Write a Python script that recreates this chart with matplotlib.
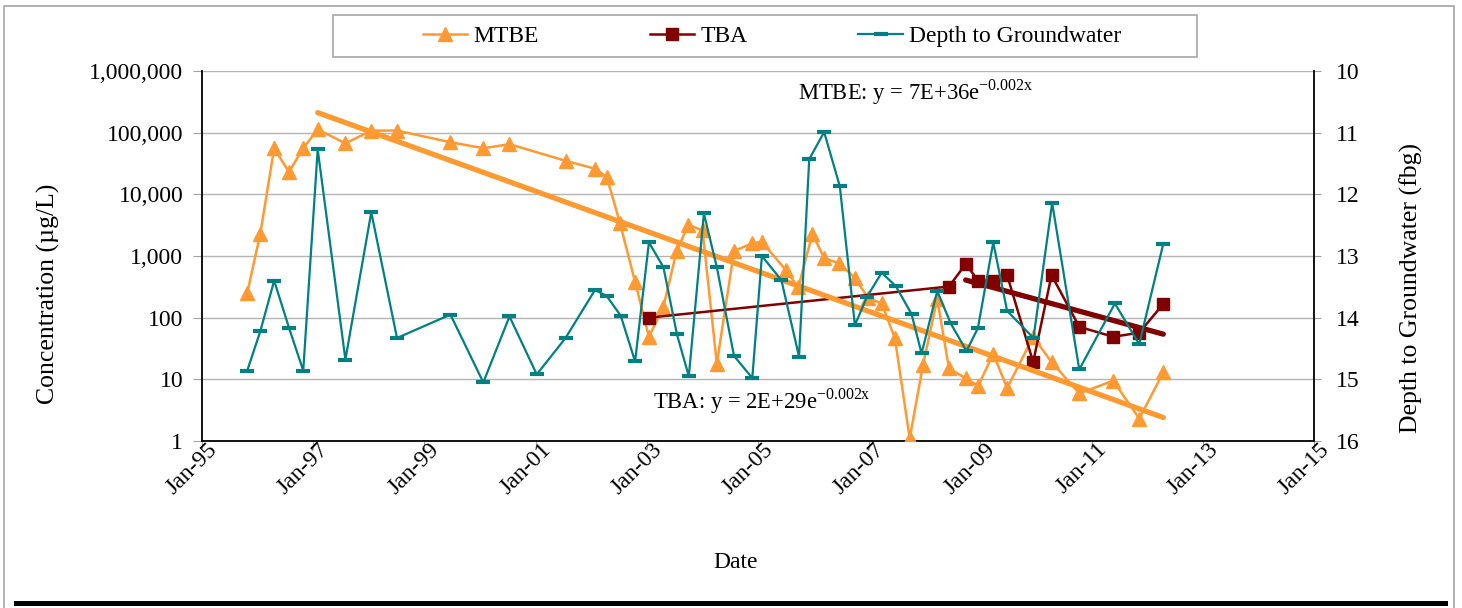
import matplotlib
matplotlib.use("Agg")
import matplotlib.pyplot as plt
import matplotlib.dates as mdates
from matplotlib.patches import Rectangle
from matplotlib.ticker import FixedLocator, FuncFormatter, NullLocator
from matplotlib.transforms import ScaledTranslation
import pandas as pd

plt.rcParams['font.family'] = ['Liberation Serif', 'DejaVu Serif']

# MTBE concentrations (ug/L)
mtbe_dates = ['1995-10-25', '1996-01-19', '1996-04-19', '1996-07-25', '1996-10-27',
              '1997-01-30', '1997-07-31', '1998-01-17', '1998-07-05', '1999-06-21',
              '2000-01-23', '2000-07-13', '2001-07-16', '2002-01-26', '2002-04-13',
              '2002-07-09', '2002-10-16', '2003-01-15', '2003-04-20', '2003-07-16',
              '2003-10-01', '2004-01-02', '2004-04-05', '2004-07-27', '2004-11-21',
              '2005-01-26', '2005-07-02', '2005-09-22', '2005-12-24', '2006-03-11',
              '2006-06-18', '2006-09-29', '2006-12-24', '2007-03-24', '2007-06-19',
              '2007-09-24', '2007-12-20', '2008-03-23', '2008-06-08', '2008-09-26',
              '2008-12-17', '2009-03-26', '2009-06-25', '2009-12-13', '2010-04-13',
              '2010-10-12', '2011-05-23', '2011-11-10', '2012-04-16']
mtbe_vals = [250, 2300, 56000, 23000, 56000,
             113000, 67000, 108000, 108000, 70000,
             56000, 65000, 35000, 26000, 19000,
             3400, 380, 49, 150, 1200,
             3200, 2600, 18, 1200, 1600,
             1700, 590, 310, 2300, 920,
             760, 440, 210, 170, 46,
             1.1, 17, 200, 15, 10.4,
             7.8, 26, 7.2, 49, 19,
             5.9, 9.5, 2.3, 13]

# TBA concentrations (ug/L)
tba_dates = ['2003-01-15', '2008-06-08', '2008-09-26', '2008-12-17', '2009-03-26',
             '2009-06-25', '2009-12-13', '2010-04-13', '2010-10-12', '2011-05-23',
             '2011-11-10', '2012-04-16']
tba_vals = [100, 320, 740, 400, 400, 490, 19, 490, 71, 49, 57, 167]

# depth to groundwater (fbg)
gw_dates = ['1995-10-25', '1996-01-19', '1996-04-19', '1996-07-25', '1996-10-27',
            '1997-01-30', '1997-07-31', '1998-01-17', '1998-07-05', '1999-06-21',
            '2000-01-23', '2000-07-13', '2001-01-08', '2001-07-16', '2002-01-26',
            '2002-04-13', '2002-07-14', '2002-10-16', '2003-01-15', '2003-04-20',
            '2003-07-18', '2003-10-04', '2004-01-11', '2004-04-05', '2004-07-27',
            '2004-11-24', '2005-01-26', '2005-06-03', '2005-09-27', '2005-12-03',
            '2006-03-11', '2006-06-22', '2006-09-29', '2006-12-18', '2007-03-24',
            '2007-06-25', '2007-10-06', '2007-12-11', '2008-03-23', '2008-06-19',
            '2008-10-01', '2008-12-15', '2009-03-26', '2009-06-25', '2009-12-15',
            '2010-04-17', '2010-10-12', '2011-06-03', '2011-11-10', '2012-04-16']
gw_vals = [14.86, 14.22, 13.40, 14.16, 14.86,
           11.27, 14.68, 12.29, 14.33, 13.95,
           15.05, 13.98, 14.92, 14.33, 13.55,
           13.65, 13.97, 14.71, 12.78, 13.18,
           14.27, 14.95, 12.31, 13.18, 14.62,
           14.98, 13.00, 13.39, 14.63, 11.43,
           10.99, 11.87, 14.12, 13.66, 13.27,
           13.49, 13.94, 14.58, 13.57, 14.09,
           14.54, 14.17, 12.78, 13.89, 14.33,
           12.14, 14.84, 13.77, 14.43, 12.80]

# exponential trendlines (end points)
mtbe_trend_dates = ['1997-01-30', '2012-04-16']
mtbe_trend_vals = [211000, 2.4]
tba_trend_dates = ['2008-09-26', '2012-04-16']
tba_trend_vals = [408, 54]

conc_ticks = [1, 10, 100, 1000, 10000, 100000, 1000000]
depth_ticks = [10, 11, 12, 13, 14, 15, 16]
tick_years = list(range(1995, 2016, 2))

ORANGE = '#FF9A33'
DARKRED = '#800000'
TEAL = '#008080'
GRID = '#B4B4B4'

fig = plt.figure(figsize=(14.62, 6.08), dpi=100)
ax = fig.add_axes([202/1462, 1 - 441/608, 1112/1462, 370/608])
ax2 = ax.twinx()

l1, = ax.plot(pd.to_datetime(mtbe_dates), mtbe_vals, color=ORANGE, lw=1.8,
              marker='^', ms=10, mec=ORANGE, mfc=ORANGE, zorder=3)
ax.plot(pd.to_datetime(mtbe_trend_dates), mtbe_trend_vals, color=ORANGE, lw=3.8,
        solid_capstyle='round', zorder=4)
l2, = ax.plot(pd.to_datetime(tba_dates), tba_vals, color=DARKRED, lw=1.8,
              marker='s', ms=9, mec=DARKRED, mfc=DARKRED, zorder=3)
ax.plot(pd.to_datetime(tba_trend_dates), tba_trend_vals, color=DARKRED, lw=3.8,
        solid_capstyle='round', zorder=4)
l3, = ax2.plot(pd.to_datetime(gw_dates), gw_vals, color=TEAL, lw=1.6,
               marker='_', ms=10, mew=3, mec=TEAL, zorder=3)

ax.set_yscale('log')
ax.set_ylim(1, 1e6)
ax.yaxis.set_major_locator(FixedLocator(conc_ticks))
ax.yaxis.set_minor_locator(NullLocator())
ax.yaxis.set_major_formatter(FuncFormatter(lambda v, p: '{:,.0f}'.format(v)))
ax.yaxis.grid(True, color=GRID, lw=1)
ax.set_axisbelow(True)

ax2.set_ylim(16, 10)
ax2.yaxis.set_major_locator(FixedLocator(depth_ticks))

ax.set_xlim(pd.Timestamp('1995-01-01'), pd.Timestamp('2015-01-01'))
ax.xaxis.set_major_locator(FixedLocator(
    [mdates.date2num(pd.Timestamp(str(y) + '-01-01')) for y in tick_years]))
ax.xaxis.set_major_formatter(mdates.DateFormatter('%b-%y'))

for a in (ax, ax2):
    a.spines['top'].set_visible(False)
ax.spines['right'].set_visible(False)
ax2.spines['left'].set_visible(False)
ax2.spines['bottom'].set_visible(False)
for s in ('left', 'bottom'):
    ax.spines[s].set_color('black')
    ax.spines[s].set_linewidth(1.3)
ax2.spines['right'].set_color('black')
ax2.spines['right'].set_linewidth(1.3)

ax.tick_params(axis='y', length=6.5, color='#A0A0A0', labelsize=17, pad=7)
ax2.tick_params(axis='y', length=5, color='#A0A0A0', labelsize=17, pad=11)
ax.tick_params(axis='x', length=6, color='#A0A0A0', labelsize=17, pad=-2)
for lab in ax.get_xticklabels():
    lab.set_rotation(45)
    lab.set_ha('right')
    lab.set_va('center')
    lab.set_rotation_mode('anchor')
    lab.set_transform(lab.get_transform() + ScaledTranslation(0.12, 0, fig.dpi_scale_trans))

ax.set_ylabel('Concentration (µg/L)', fontsize=18.5)
ax.yaxis.set_label_coords(-142/1112, (441 - 294)/370)
ax2.set_ylabel('Depth to Groundwater (fbg)', fontsize=18.5)
ax2.yaxis.set_label_coords((1400 - 202)/1112, (441 - 288)/370)
ax.set_xlabel('Date', fontsize=17)
ax.xaxis.set_label_coords((736 - 202)/1112, (441 - 552)/370)

ax.text((798 - 202)/1112, (441 - 92)/370, r'MTBE: y = 7E+36e$^{\mathregular{-0.002x}}$',
        transform=ax.transAxes, fontsize=16.3, ha='left', va='center')
ax.text((653 - 202)/1112, (441 - 401)/370, r'TBA: y = 2E+29e$^{\mathregular{-0.002x}}$',
        transform=ax.transAxes, fontsize=16.3, ha='left', va='center')

# outer chart frame, legend box, bottom rule
fig.patches.append(Rectangle((4/1462, -0.02), 1450/1462, 1 - 6/608 + 0.02,
                             transform=fig.transFigure, fill=False, ec='#A6A6A6', lw=1.2))
fig.patches.append(Rectangle((333/1462, 1 - 57/608), 864/1462, 42/608,
                             transform=fig.transFigure, fill=True, fc='white',
                             ec='#A6A6A6', lw=1.2))
fig.patches.append(Rectangle((14/1462, 1 - 605.5/608), 1434/1462, 5/608,
                             transform=fig.transFigure, color='black', lw=0))

fig.legend([l1, l2, l3], ['MTBE', 'TBA', 'Depth to Groundwater'],
           loc='center', bbox_to_anchor=(772/1462, 1 - 36/608), ncol=3,
           frameon=False, fontsize=17, handlelength=1.9, handletextpad=0.25,
           columnspacing=4.7, markerscale=1.0)

fig.savefig('out.png', dpi=100)
